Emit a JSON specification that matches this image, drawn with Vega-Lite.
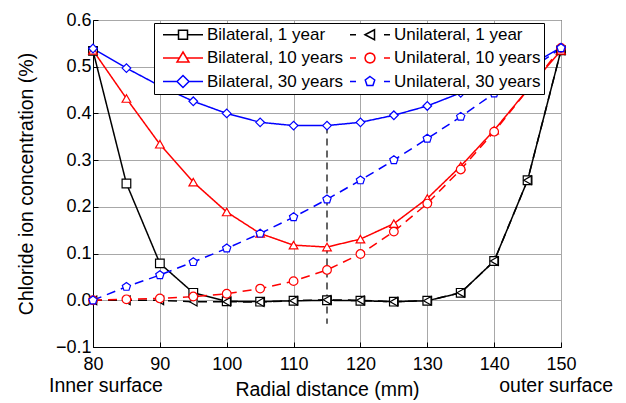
{
  "$schema": "https://vega.github.io/schema/vega-lite/v6.json",
  "width": 468,
  "height": 327,
  "autosize": {"type": "none"},
  "padding": {"left": 93, "top": 20, "right": 65, "bottom": 56},
  "background": "white",
  "config": {
    "font": "Liberation Sans",
    "view": {"stroke": "black", "strokeWidth": 1},
    "axis": {
      "domainColor": "black",
      "tickColor": "black",
      "gridColor": "#a8a8a8",
      "gridWidth": 1,
      "labelFont": "Liberation Sans",
      "titleFont": "Liberation Sans",
      "labelFontSize": 18,
      "titleFontSize": 19.5,
      "labelColor": "black",
      "titleColor": "black",
      "titleFontWeight": "normal"
    }
  },
  "resolve": {
    "scale": {"shape": "independent"},
    "legend": {"color": "independent", "shape": "independent", "strokeDash": "independent"}
  },
  "datasets": {
    "series": [
      {"x": 80, "y": 0.534, "s": "Bilateral, 1 year"},
      {"x": 85, "y": 0.25, "s": "Bilateral, 1 year"},
      {"x": 90, "y": 0.079, "s": "Bilateral, 1 year"},
      {"x": 95, "y": 0.016, "s": "Bilateral, 1 year"},
      {"x": 100, "y": -0.002, "s": "Bilateral, 1 year"},
      {"x": 105, "y": -0.003, "s": "Bilateral, 1 year"},
      {"x": 110, "y": -0.001, "s": "Bilateral, 1 year"},
      {"x": 115, "y": 0.0, "s": "Bilateral, 1 year"},
      {"x": 120, "y": -0.001, "s": "Bilateral, 1 year"},
      {"x": 125, "y": -0.003, "s": "Bilateral, 1 year"},
      {"x": 130, "y": -0.001, "s": "Bilateral, 1 year"},
      {"x": 135, "y": 0.016, "s": "Bilateral, 1 year"},
      {"x": 140, "y": 0.084, "s": "Bilateral, 1 year"},
      {"x": 145, "y": 0.257, "s": "Bilateral, 1 year"},
      {"x": 150, "y": 0.535, "s": "Bilateral, 1 year"},
      {"x": 80, "y": 0.0, "s": "Unilateral, 1 year"},
      {"x": 85, "y": 0.0, "s": "Unilateral, 1 year"},
      {"x": 90, "y": 0.0, "s": "Unilateral, 1 year"},
      {"x": 95, "y": -0.003, "s": "Unilateral, 1 year"},
      {"x": 100, "y": -0.003, "s": "Unilateral, 1 year"},
      {"x": 105, "y": -0.004, "s": "Unilateral, 1 year"},
      {"x": 110, "y": -0.001, "s": "Unilateral, 1 year"},
      {"x": 115, "y": 0.001, "s": "Unilateral, 1 year"},
      {"x": 120, "y": 0.0, "s": "Unilateral, 1 year"},
      {"x": 125, "y": -0.003, "s": "Unilateral, 1 year"},
      {"x": 130, "y": -0.001, "s": "Unilateral, 1 year"},
      {"x": 135, "y": 0.016, "s": "Unilateral, 1 year"},
      {"x": 140, "y": 0.084, "s": "Unilateral, 1 year"},
      {"x": 145, "y": 0.257, "s": "Unilateral, 1 year"},
      {"x": 150, "y": 0.535, "s": "Unilateral, 1 year"},
      {"x": 80, "y": 0.535, "s": "Bilateral, 10 years"},
      {"x": 85, "y": 0.432, "s": "Bilateral, 10 years"},
      {"x": 90, "y": 0.334, "s": "Bilateral, 10 years"},
      {"x": 95, "y": 0.253, "s": "Bilateral, 10 years"},
      {"x": 100, "y": 0.189, "s": "Bilateral, 10 years"},
      {"x": 105, "y": 0.143, "s": "Bilateral, 10 years"},
      {"x": 110, "y": 0.118, "s": "Bilateral, 10 years"},
      {"x": 115, "y": 0.114, "s": "Bilateral, 10 years"},
      {"x": 120, "y": 0.131, "s": "Bilateral, 10 years"},
      {"x": 125, "y": 0.164, "s": "Bilateral, 10 years"},
      {"x": 130, "y": 0.218, "s": "Bilateral, 10 years"},
      {"x": 135, "y": 0.287, "s": "Bilateral, 10 years"},
      {"x": 140, "y": 0.364, "s": "Bilateral, 10 years"},
      {"x": 145, "y": 0.451, "s": "Bilateral, 10 years"},
      {"x": 150, "y": 0.535, "s": "Bilateral, 10 years"},
      {"x": 80, "y": 0.0, "s": "Unilateral, 10 years"},
      {"x": 85, "y": 0.002, "s": "Unilateral, 10 years"},
      {"x": 90, "y": 0.004, "s": "Unilateral, 10 years"},
      {"x": 95, "y": 0.008, "s": "Unilateral, 10 years"},
      {"x": 100, "y": 0.014, "s": "Unilateral, 10 years"},
      {"x": 105, "y": 0.025, "s": "Unilateral, 10 years"},
      {"x": 110, "y": 0.041, "s": "Unilateral, 10 years"},
      {"x": 115, "y": 0.065, "s": "Unilateral, 10 years"},
      {"x": 120, "y": 0.099, "s": "Unilateral, 10 years"},
      {"x": 125, "y": 0.147, "s": "Unilateral, 10 years"},
      {"x": 130, "y": 0.207, "s": "Unilateral, 10 years"},
      {"x": 135, "y": 0.28, "s": "Unilateral, 10 years"},
      {"x": 140, "y": 0.361, "s": "Unilateral, 10 years"},
      {"x": 145, "y": 0.45, "s": "Unilateral, 10 years"},
      {"x": 150, "y": 0.54, "s": "Unilateral, 10 years"},
      {"x": 80, "y": 0.539, "s": "Bilateral, 30 years"},
      {"x": 85, "y": 0.497, "s": "Bilateral, 30 years"},
      {"x": 90, "y": 0.459, "s": "Bilateral, 30 years"},
      {"x": 95, "y": 0.426, "s": "Bilateral, 30 years"},
      {"x": 100, "y": 0.4, "s": "Bilateral, 30 years"},
      {"x": 105, "y": 0.381, "s": "Bilateral, 30 years"},
      {"x": 110, "y": 0.374, "s": "Bilateral, 30 years"},
      {"x": 115, "y": 0.374, "s": "Bilateral, 30 years"},
      {"x": 120, "y": 0.381, "s": "Bilateral, 30 years"},
      {"x": 125, "y": 0.396, "s": "Bilateral, 30 years"},
      {"x": 130, "y": 0.416, "s": "Bilateral, 30 years"},
      {"x": 135, "y": 0.444, "s": "Bilateral, 30 years"},
      {"x": 140, "y": 0.47, "s": "Bilateral, 30 years"},
      {"x": 145, "y": 0.5, "s": "Bilateral, 30 years"},
      {"x": 150, "y": 0.541, "s": "Bilateral, 30 years"},
      {"x": 80, "y": 0.0, "s": "Unilateral, 30 years"},
      {"x": 85, "y": 0.029, "s": "Unilateral, 30 years"},
      {"x": 90, "y": 0.054, "s": "Unilateral, 30 years"},
      {"x": 95, "y": 0.082, "s": "Unilateral, 30 years"},
      {"x": 100, "y": 0.111, "s": "Unilateral, 30 years"},
      {"x": 105, "y": 0.143, "s": "Unilateral, 30 years"},
      {"x": 110, "y": 0.178, "s": "Unilateral, 30 years"},
      {"x": 115, "y": 0.216, "s": "Unilateral, 30 years"},
      {"x": 120, "y": 0.257, "s": "Unilateral, 30 years"},
      {"x": 125, "y": 0.3, "s": "Unilateral, 30 years"},
      {"x": 130, "y": 0.346, "s": "Unilateral, 30 years"},
      {"x": 135, "y": 0.393, "s": "Unilateral, 30 years"},
      {"x": 140, "y": 0.443, "s": "Unilateral, 30 years"},
      {"x": 145, "y": 0.49, "s": "Unilateral, 30 years"},
      {"x": 150, "y": 0.54, "s": "Unilateral, 30 years"}
    ]
  },
  "layer": [
    {
      "data": {"values": [{"x": 115, "y": 0.372, "y2": -0.05}]},
      "mark": {"type": "rule", "color": "#333333", "strokeWidth": 1.5, "strokeDash": [7, 5]},
      "encoding": {
        "x": {"field": "x", "type": "quantitative"},
        "y": {"field": "y", "type": "quantitative"},
        "y2": {"field": "y2"}
      }
    },
    {
      "data": {"name": "series"},
      "mark": {"type": "line", "strokeWidth": 1.5},
      "encoding": {
        "x": {
          "field": "x", "type": "quantitative",
          "scale": {"domain": [80, 150], "nice": false, "zero": false},
          "axis": {
            "title": "Radial distance (mm)",
            "values": [80, 85, 90, 95, 100, 105, 110, 115, 120, 125, 130, 135, 140, 145, 150],
            "labelExpr": "datum.value % 10 == 0 ? datum.label : ''",
            "tickSize": {"condition": {"test": "datum.value % 10 != 0", "value": -3}, "value": -5},
            "gridOpacity": {"condition": {"test": "datum.value % 10 != 0", "value": 0}, "value": 1},
            "labelPadding": 13,
            "titlePadding": 7,
            "labelFlush": false
          }
        },
        "y": {
          "field": "y", "type": "quantitative",
          "scale": {"domain": [-0.1, 0.6], "nice": false, "zero": false},
          "axis": {
            "title": "Chloride ion concentration (%)",
            "values": [-0.1, -0.05, 0, 0.05, 0.1, 0.15, 0.2, 0.25, 0.3, 0.35, 0.4, 0.45, 0.5, 0.55, 0.6],
            "format": ".1f",
            "labelExpr": "abs(round(datum.value * 20)) % 2 == 0 ? datum.label : ''",
            "tickSize": {"condition": {"test": "abs(round(datum.value * 20)) % 2 == 1", "value": -3}, "value": -5},
            "gridOpacity": {"condition": {"test": "abs(round(datum.value * 20)) % 2 == 1", "value": 0}, "value": 1},
            "labelPadding": 7,
            "titlePadding": 19,
            "labelFlush": false
          }
        },
        "color": {
          "field": "s", "type": "nominal",
          "scale": {
            "domain": ["Bilateral, 1 year", "Unilateral, 1 year", "Bilateral, 10 years", "Unilateral, 10 years", "Bilateral, 30 years", "Unilateral, 30 years"],
            "range": ["#000000", "#000000", "#ff0000", "#ff0000", "#0000ff", "#0000ff"]
          },
          "legend": null
        },
        "strokeDash": {
          "field": "s", "type": "nominal",
          "scale": {
            "domain": ["Bilateral, 1 year", "Unilateral, 1 year", "Bilateral, 10 years", "Unilateral, 10 years", "Bilateral, 30 years", "Unilateral, 30 years"],
            "range": [[1, 0], [9, 6], [1, 0], [9, 6], [1, 0], [9, 6]]
          },
          "legend": null
        }
      }
    },
    {
      "data": {"name": "series"},
      "mark": {"type": "point", "filled": false, "fill": "white", "fillOpacity": 1, "strokeWidth": 1.2, "size": 75, "opacity": 1},
      "encoding": {
        "x": {"field": "x", "type": "quantitative"},
        "y": {"field": "y", "type": "quantitative"},
        "color": {"field": "s", "type": "nominal", "legend": null},
        "shape": {
          "field": "s", "type": "nominal",
          "scale": {
            "domain": ["Bilateral, 1 year", "Unilateral, 1 year", "Bilateral, 10 years", "Unilateral, 10 years", "Bilateral, 30 years", "Unilateral, 30 years"],
            "range": ["square", "triangle-left", "triangle-up", "circle", "diamond", "M0,-1L0.951,-0.309L0.588,0.809L-0.588,0.809L-0.951,-0.309Z"]
          },
          "legend": null
        }
      }
    },
    {
      "data": {"name": "series"},
      "transform": [{"filter": "datum.x < 0"}],
      "mark": {"type": "point", "filled": false, "strokeWidth": 1.5, "size": 100, "opacity": 1},
      "encoding": {
        "color": {
          "field": "s", "type": "nominal",
          "scale": {
            "domain": ["Bilateral, 1 year", "Unilateral, 1 year", "Bilateral, 10 years", "Unilateral, 10 years", "Bilateral, 30 years", "Unilateral, 30 years"],
            "range": ["#000000", "#000000", "#ff0000", "#ff0000", "#0000ff", "#0000ff"]
          },
          "legend": {
            "title": null,
            "orient": "none",
            "legendX": 61,
            "legendY": 3,
            "columns": 2,
            "direction": "horizontal",
            "labelFontSize": 17,
            "labelFont": "Liberation Sans",
            "labelColor": "black",
            "symbolSize": 100,
            "symbolStrokeWidth": 1.5,
            "symbolOpacity": 1,
            "symbolOffset": 17.5,
            "labelOffset": 15.5,
            "rowPadding": 5.5,
            "columnPadding": 0,
            "padding": 3,
            "strokeColor": "black",
            "fillColor": "white",
            "cornerRadius": 0,
            "labelLimit": 300
          }
        },
        "shape": {
          "field": "s", "type": "nominal",
          "scale": {
            "domain": ["Bilateral, 1 year", "Unilateral, 1 year", "Bilateral, 10 years", "Unilateral, 10 years", "Bilateral, 30 years", "Unilateral, 30 years"],
            "range": [
              "M-4,0H-0.9M0.9,0H4M-0.9,-0.9H0.9V0.9H-0.9Z",
              "M-4,0H-2.8M2.8,0H4M-1,0L0.9,-1L0.9,1Z",
              "M-4,0H-0.72M0.72,0H4M0,-1.2L1.2,0.8L-1.2,0.8Z",
              "M-4,0H-2.8M2.8,0H4M1,0L0.866,0.5L0.5,0.866L0,1L-0.5,0.866L-0.866,0.5L-1,0L-0.866,-0.5L-0.5,-0.866L0,-1L0.5,-0.866L0.866,-0.5Z",
              "M-4,0H-1.2M1.2,0H4M-1.2,0L0,-1.2L1.2,0L0,1.2Z",
              "M-4,0H-2.8M2.8,0H4M0,-1L0.95,-0.31L0.59,0.81L-0.59,0.81L-0.95,-0.31Z"
            ]
          },
          "legend": {
            "title": null,
            "orient": "none",
            "legendX": 61,
            "legendY": 3,
            "columns": 2,
            "direction": "horizontal",
            "labelFontSize": 17,
            "labelFont": "Liberation Sans",
            "labelColor": "black",
            "symbolSize": 100,
            "symbolStrokeWidth": 1.5,
            "symbolOpacity": 1,
            "symbolOffset": 17.5,
            "labelOffset": 15.5,
            "rowPadding": 5.5,
            "columnPadding": 0,
            "padding": 3,
            "strokeColor": "black",
            "fillColor": "white",
            "cornerRadius": 0,
            "labelLimit": 300
          }
        }
      }
    },
    {
      "data": {"values": [
        {"x": 80, "y": -0.1, "t": "Inner surface", "side": "inner"},
        {"x": 150, "y": -0.1, "t": "outer surface", "side": "outer"}
      ]},
      "transform": [{"filter": "datum.side == 'inner'"}],
      "mark": {"type": "text", "align": "left", "baseline": "middle", "dx": -44, "dy": 39, "fontSize": 19.5, "font": "Liberation Sans", "color": "black"},
      "encoding": {
        "x": {"field": "x", "type": "quantitative"},
        "y": {"field": "y", "type": "quantitative"},
        "text": {"field": "t"}
      }
    },
    {
      "data": {"values": [
        {"x": 80, "y": -0.1, "t": "Inner surface", "side": "inner"},
        {"x": 150, "y": -0.1, "t": "outer surface", "side": "outer"}
      ]},
      "transform": [{"filter": "datum.side == 'outer'"}],
      "mark": {"type": "text", "align": "right", "baseline": "middle", "dx": 52, "dy": 39, "fontSize": 19.5, "font": "Liberation Sans", "color": "black"},
      "encoding": {
        "x": {"field": "x", "type": "quantitative"},
        "y": {"field": "y", "type": "quantitative"},
        "text": {"field": "t"}
      }
    }
  ]
}
